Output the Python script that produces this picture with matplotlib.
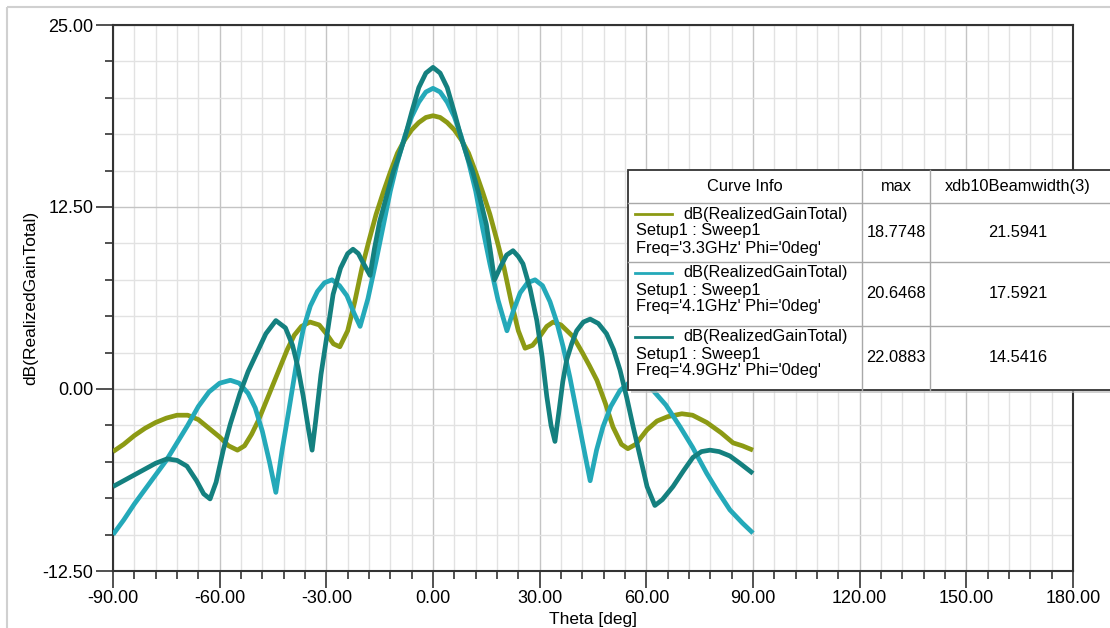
import matplotlib.pyplot as plt
import matplotlib.ticker as ticker

# 3.3 GHz curve
theta_33 = [-90, -87, -84, -81, -78, -75, -72, -69, -66, -63, -60, -57.5, -55, -53, -51,
            -49, -47, -45, -43, -41, -39, -37, -34.6, -32, -30, -28, -26.2, -24, -22,
            -20, -18, -16, -14, -12, -10, -8, -6, -4, -2, 0,
            2, 4, 6, 8, 10, 12, 14, 16, 18, 20, 22, 24, 25.9, 28, 30, 32, 33.8, 36,
            39.4, 42, 44, 46.1, 48.5, 50.6, 53, 54.8, 57, 60.2, 63, 66, 70, 73, 77,
            81, 84.4, 87, 90]
gain_33 = [-4.3, -3.8, -3.2, -2.7, -2.3, -2.0, -1.8, -1.8, -2.1, -2.7, -3.3, -3.9, -4.2, -3.9, -3.1,
           -2.1, -0.9, 0.3, 1.5, 2.7, 3.7, 4.3, 4.6, 4.4, 3.8, 3.1, 2.9, 4.0, 6.0,
           8.3, 10.2, 12.0, 13.5, 14.9, 16.2, 17.1, 17.8, 18.3, 18.65, 18.77,
           18.65, 18.3, 17.8, 17.1, 16.2, 14.9, 13.5, 12.0, 10.2, 8.3, 6.0, 4.0, 2.8, 3.0, 3.6, 4.3, 4.6, 4.4,
           3.6, 2.5, 1.6, 0.6, -1.0, -2.6, -3.8, -4.1, -3.8, -2.8, -2.2, -1.9, -1.7, -1.8, -2.3,
           -3.0, -3.7, -3.9, -4.2]

# 4.1 GHz curve
theta_41 = [-90, -87, -84, -81, -78, -75, -72, -69, -66, -63, -60, -57, -54.5, -52, -50,
            -48, -46, -44.2, -42.5, -40.5, -38.5, -36.5, -34.5, -32.5, -30.5, -28.4,
            -26.3, -24.2, -22.2, -20.5, -18.3, -16, -14, -12, -10, -8, -6, -4, -2, 0,
            2, 4, 6, 8, 10, 12, 14, 16, 18.3, 20.8, 22.5, 24.5, 26.6, 28.7, 30.8, 32.9,
            34.8, 36.6, 38.5, 40.5, 42.5, 44.2, 46, 47.8, 50, 52.6, 55, 57, 59.5, 61.9,
            65.5, 69.5, 73, 77, 80, 83.5, 87, 90]
gain_41 = [-10.0, -9.0, -7.9, -6.9, -5.9, -4.9, -3.7, -2.5, -1.2, -0.2, 0.4, 0.6, 0.4, -0.3, -1.3,
           -2.9, -5.0, -7.1, -4.3, -1.4, 1.6, 4.1, 5.7, 6.7, 7.3, 7.5,
           7.1, 6.4, 5.2, 4.3, 6.2, 8.8, 11.2, 13.6, 15.6, 17.3, 18.7, 19.7, 20.4, 20.65,
           20.4, 19.7, 18.7, 17.3, 15.6, 13.6, 11.0, 8.6, 6.1, 4.0, 5.3, 6.6, 7.3, 7.5, 7.1, 6.0,
           4.6, 2.9, 0.8, -1.7, -4.2, -6.3, -4.2, -2.6, -1.2, -0.1, 0.4, 0.5, 0.3, -0.1,
           -1.1, -2.6, -4.0, -5.8, -7.0, -8.3, -9.2, -9.9]

# 4.9 GHz curve
theta_49 = [-90, -87, -84, -81, -78, -74.8, -72, -69.2, -66.5, -64.5, -62.7, -61, -59, -57,
            -54.3, -52, -49.5, -47, -44.2, -41.5, -39.5, -38, -36.5, -35, -34, -33, -31.5,
            -30, -28.1, -26, -24, -22.5, -21, -19.5, -17.7, -16.5, -15, -13, -11.2, -10,
            -8, -6, -4, -2, 0,
            2, 4, 6, 8, 10, 11.2, 13, 15, 16.3, 17.3, 19, 20.7, 22.5, 24, 25.3, 27.3,
            29.2, 30.7, 32, 33.2, 34.3, 35.5, 36.5, 37.6, 39, 40.4, 42.3, 44.2, 46.5,
            48.8, 50.8, 52.6, 54.5, 56.3, 58.3, 60.2, 62.4, 64.5, 67.5, 70.5, 73.1, 75.5,
            77.9, 80.5, 83.5, 86.3, 90]
gain_49 = [-6.7, -6.3, -5.9, -5.5, -5.1, -4.8, -4.9, -5.3, -6.3, -7.2, -7.55, -6.4, -4.2, -2.4,
           -0.3, 1.2, 2.5, 3.8, 4.7, 4.2, 3.0, 1.5, -0.5, -2.8, -4.2, -2.2, 1.0,
           3.4, 6.5, 8.3, 9.3, 9.6, 9.3, 8.6, 7.8, 9.6, 11.5, 13.3, 14.9, 15.7,
           17.2, 19.0, 20.7, 21.7, 22.09,
           21.7, 20.7, 19.0, 17.2, 15.7, 14.9, 13.3, 11.3, 9.2, 7.5, 8.4, 9.2, 9.5, 9.1, 8.6, 6.9,
           4.7, 2.2, -0.5, -2.5, -3.6, -1.4, 0.5, 2.0, 3.1, 4.0, 4.6, 4.8, 4.5,
           3.8, 2.7, 1.3, -0.6, -2.6, -4.7, -6.7, -8.0, -7.6, -6.7, -5.6, -4.7, -4.3,
           -4.2, -4.3, -4.6, -5.1, -5.8]

colors = ["#8c9a14", "#24a9b9", "#14807f"]
freqs = ["3.3GHz", "4.1GHz", "4.9GHz"]
max_vals = ["18.7748", "20.6468", "22.0883"]
beamwidths = ["21.5941", "17.5921", "14.5416"]

plt.rcParams['font.family'] = ['Liberation Sans', 'DejaVu Sans']

fig = plt.figure(figsize=(11.1, 6.28), dpi=100)
ax = fig.add_axes([113 / 1110, 1 - 571 / 628, 960 / 1110, 546 / 628])

for th, g, c in zip([theta_33, theta_41, theta_49], [gain_33, gain_41, gain_49], colors):
    ax.plot(th, g, color=c, lw=3.4, solid_joinstyle='round', solid_capstyle='butt', zorder=3)

ax.set_xlim(-90, 180)
ax.set_ylim(-12.5, 25)
ax.xaxis.set_major_locator(ticker.MultipleLocator(30))
ax.xaxis.set_minor_locator(ticker.MultipleLocator(6))
ax.yaxis.set_major_locator(ticker.MultipleLocator(12.5))
ax.yaxis.set_minor_locator(ticker.MultipleLocator(2.5))
ax.xaxis.set_major_formatter(ticker.FormatStrFormatter('%.2f'))
ax.yaxis.set_major_formatter(ticker.FormatStrFormatter('%.2f'))
ax.grid(which='major', color='#c4c4c4', lw=1)
ax.grid(which='minor', color='#e2e2e2', lw=1)
ax.set_axisbelow(True)
ax.tick_params(which='major', length=12, width=1.2, color='#333333', labelsize=13, pad=2)
ax.tick_params(which='minor', length=6, width=1.2, color='#333333')
for s in ax.spines.values():
    s.set_color('#333333')
    s.set_linewidth(1.5)
ax.set_xlabel("Theta [deg]", fontsize=12.5, labelpad=3)
ax.set_ylabel("dB(RealizedGainTotal)", fontsize=12.5, labelpad=3)

# overlay in pixel coordinates for the curve info table and frame
ov = fig.add_axes([0, 0, 1, 1])
ov.set_xlim(0, 1110)
ov.set_ylim(628, 0)
ov.axis('off')
ov.add_patch(plt.Rectangle((7, 7), 1110, 640, fill=False, ec='#d0d0d0', lw=1.5))

tx0, tx1, tx2, tx3 = 628, 862, 930, 1112
ty = [170, 203, 262, 326, 390]
ov.add_patch(plt.Rectangle((tx0 + 3, ty[0] + 3), tx3 - tx0, ty[-1] - ty[0],
                           fc='#bdbdbd', ec='none', alpha=0.7, zorder=4))
ov.add_patch(plt.Rectangle((tx0, ty[0]), tx3 - tx0, ty[-1] - ty[0],
                           fc='white', ec='#333333', lw=1.3, zorder=5))
for y in ty[1:-1]:
    ov.plot([tx0, tx3], [y, y], color='#a8a8a8', lw=1, zorder=6)
for x in (tx1, tx2):
    ov.plot([x, x], [ty[0], ty[-1]], color='#a8a8a8', lw=1, zorder=6)

fs = 11.8
ov.text((tx0 + tx1) / 2, (ty[0] + ty[1]) / 2, "Curve Info", ha='center', va='center', fontsize=fs, zorder=7)
ov.text((tx1 + tx2) / 2, (ty[0] + ty[1]) / 2, "max", ha='center', va='center', fontsize=fs, zorder=7)
ov.text((tx2 + 1106) / 2, (ty[0] + ty[1]) / 2, "xdb10Beamwidth(3)", ha='center', va='center', fontsize=fs, zorder=7)
for i in range(3):
    y0 = ty[i + 1]
    ym = (ty[i + 1] + ty[i + 2]) / 2
    ov.plot([635, 672], [y0 + 11, y0 + 11], color=colors[i], lw=2, zorder=7)
    ov.text(683, y0 + 11, "dB(RealizedGainTotal)", ha='left', va='center', fontsize=fs, zorder=7)
    ov.text(636, y0 + 28, "Setup1 : Sweep1", ha='left', va='center', fontsize=fs, zorder=7)
    ov.text(636, y0 + 45, "Freq='%s' Phi='0deg'" % freqs[i], ha='left', va='center', fontsize=fs, zorder=7)
    ov.text((tx1 + tx2) / 2, ym, max_vals[i], ha='center', va='center', fontsize=fs, zorder=7)
    ov.text((tx2 + 1106) / 2, ym, beamwidths[i], ha='center', va='center', fontsize=fs, zorder=7)

fig.savefig("out.png", dpi=100)
